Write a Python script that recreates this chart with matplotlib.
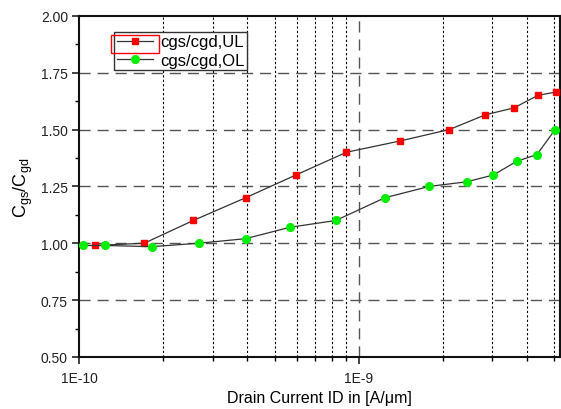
import numpy as np
import matplotlib.pyplot as plt
from matplotlib.ticker import FixedLocator, NullFormatter, MultipleLocator
from matplotlib.patches import Rectangle

plt.rcParams['font.family'] = ['Liberation Sans', 'DejaVu Sans']

# drain current [A/um] and capacitance ratio
ul_x = [1.14e-10, 1.71e-10, 2.56e-10, 3.94e-10, 5.96e-10, 9.04e-10,
        1.41e-9, 2.11e-9, 2.84e-9, 3.59e-9, 4.37e-9, 5.08e-9]
ul_y = [0.99, 1.00, 1.10, 1.20, 1.30, 1.40, 1.45, 1.50, 1.565, 1.595, 1.65, 1.665]

ol_x = [1.03e-10, 1.24e-10, 1.82e-10, 2.68e-10, 3.94e-10, 5.67e-10, 8.28e-10,
        1.24e-9, 1.79e-9, 2.43e-9, 3.03e-9, 3.67e-9, 4.34e-9, 5.04e-9]
ol_y = [0.99, 0.99, 0.985, 1.00, 1.02, 1.07, 1.10, 1.20, 1.25, 1.27, 1.30, 1.36, 1.39, 1.50]

fig = plt.figure(figsize=(5.61, 4.10), dpi=100)
ax = fig.add_axes([0.141, 0.127, 0.857, 0.832])

ax.set_xscale('log')
ax.set_xlim(1e-10, 5.24e-9)
ax.set_ylim(0.5, 2.0)

# grid
minor = [k * 1e-10 for k in range(2, 10)] + [k * 1e-9 for k in range(2, 6)]
for xv in minor:
    ax.axvline(xv, color='black', lw=0.8, ls=(0, (2, 2)), zorder=1)
ax.axvline(1e-9, color='#555555', lw=1.0, ls=(0, (8, 5)), zorder=1)
for yv in [0.75, 1.0, 1.25, 1.5, 1.75]:
    ax.axhline(yv, color='#555555', lw=1.0, ls=(0, (8, 5)), zorder=1)

l1, = ax.plot(ul_x, ul_y, color='#333333', lw=0.9, marker='s', ms=5,
              mfc='red', mec='red', label='cgs/cgd,UL', zorder=3)
l2, = ax.plot(ol_x, ol_y, color='#333333', lw=0.9, marker='o', ms=5.5,
              mfc='#00ee00', mec='#00ee00', label='cgs/cgd,OL', zorder=3)

ax.xaxis.set_major_locator(FixedLocator([1e-10, 1e-9]))
ax.xaxis.set_minor_locator(FixedLocator(minor))
ax.xaxis.set_minor_formatter(NullFormatter())
ax.set_xticklabels(['1E-10', '1E-9'])
ax.yaxis.set_major_locator(MultipleLocator(0.25))
ax.yaxis.set_minor_locator(MultipleLocator(0.125))
ax.yaxis.set_major_formatter(plt.FuncFormatter(lambda v, p: '%.2f' % v))

ax.tick_params(which='major', direction='out', length=5, width=1.2,
               labelsize=10, colors='#222222', top=False, right=False)
ax.tick_params(which='minor', direction='out', length=3, width=1.0,
               top=False, right=False)
ax.tick_params(axis='x', which='major', pad=5)
ax.tick_params(axis='y', which='major', pad=3)
for s in ax.spines.values():
    s.set_linewidth(1.5)
    s.set_color('#111111')

ax.set_xlabel('Drain Current ID in [A/\u03bcm]', fontsize=11.5, labelpad=4)
ax.set_ylabel('C$_{\\mathregular{gs}}$/C$_{\\mathregular{gd}}$', fontsize=13, labelpad=4)

leg = ax.legend(loc='upper left', bbox_to_anchor=(0.073, 0.953), fontsize=12,
                frameon=True, fancybox=False, edgecolor='#333333',
                framealpha=1, borderpad=0.15, labelspacing=0.2,
                handlelength=2.2, handletextpad=0.4, borderaxespad=0)
leg.get_frame().set_linewidth(1.0)

fig.canvas.draw()
h = leg.legend_handles[0]
bb = h.get_window_extent(fig.canvas.get_renderer())
r = Rectangle((bb.x0 - 2, bb.y0 - 9), bb.width + 4, 18, transform=None,
              fill=False, ec='red', lw=1.0, zorder=10)
fig.patches.append(r)

fig.savefig('out.png', dpi=100)
